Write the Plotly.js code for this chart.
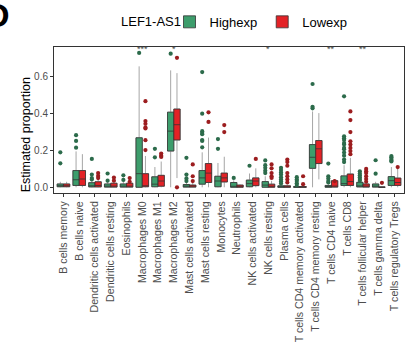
<!DOCTYPE html>
<html>
<head>
<meta charset="utf-8">
<script src="https://cdn.plot.ly/plotly-3.0.1.min.js"></script>
<style>html,body{margin:0;padding:0;background:#fff;}#chart{width:411px;height:356px;}</style>
</head>
<body>
<div id="chart"></div>
<script>
const categories = ["B cells memory","B cells naive","Dendritic cells activated","Dendritic cells resting","Eosinophils","Macrophages M0","Macrophages M1","Macrophages M2","Mast cells activated","Mast cells resting","Monocytes","Neutrophils","NK cells activated","NK cells resting","Plasma cells","T cells CD4 memory activated","T cells CD4 memory resting","T cells CD4 naive","T cells CD8","T cells follicular helper","T cells gamma delta","T cells regulatory Tregs"];

// Highexp group
const highQ1  = [0.003,0.010,0.002,0.001,0.001,0.000,0.003,0.197,0.001,0.017,0.003,0.000,0.003,0.000,0.000,0.000,0.103,0.000,0.010,0.002,0.001,0.010];
const highMed = [0.008,0.041,0.008,0.005,0.005,0.074,0.017,0.305,0.005,0.051,0.034,0.005,0.020,0.012,0.002,0.001,0.163,0.003,0.020,0.007,0.005,0.036];
const highQ3  = [0.018,0.091,0.025,0.018,0.018,0.269,0.057,0.408,0.015,0.091,0.060,0.026,0.039,0.031,0.008,0.004,0.232,0.010,0.062,0.027,0.018,0.058];
const highLo  = [0.000,0.000,0.000,0.000,0.000,0.000,0.000,0.000,0.000,0.000,0.000,0.000,0.000,0.000,0.000,0.000,0.000,0.000,0.000,0.000,0.000,0.000];
const highHi  = [0.030,0.195,0.040,0.030,0.030,0.657,0.110,0.635,0.030,0.190,0.132,0.038,0.075,0.060,0.015,0.008,0.412,0.020,0.120,0.030,0.030,0.110];
const highOut = [
  [0.19,0.13],
  [0.283,0.252,0.215],
  [0.154,0.069,0.05,0.043],
  [0.075,0.036],
  [0.065,0.04],
  [0.73],
  [0.209,0.163],
  [0.726],
  [0.16,0.069,0.048,0.034],
  [0.626,0.4,0.305,0.295,0.288,0.257,0.252,0.217],
  [0.262,0.209],
  [0.051],
  [0.117],
  [0.146,0.12,0.106,0.09,0.077],
  [0.106,0.094,0.081,0.069,0.055,0.043,0.031,0.02],
  [0.055,0.043,0.034,0.022,0.012],
  [0.561,0.437,0.429],
  [0.129,0.06,0.048,0.034,0.026],
  [0.494,0.277,0.266,0.257,0.24,0.232,0.214,0.206,0.189,0.172,0.151,0.137],
  [0.087,0.075,0.065,0.055,0.045,0.036],
  [0.147,0.074],
  [0.17,0.163,0.154,0.146,0.14]
];

// Lowexp group
const lowQ1  = [0.003,0.010,0.002,0.001,0.001,0.003,0.006,0.257,0.001,0.026,0.029,0.000,0.009,0.000,0.000,0.000,0.129,0.001,0.010,0.001,0.000,0.010];
const lowMed = [0.008,0.045,0.010,0.006,0.006,0.006,0.034,0.340,0.004,0.077,0.051,0.005,0.034,0.005,0.002,0.001,0.209,0.005,0.031,0.005,0.000,0.026];
const lowQ3  = [0.018,0.091,0.030,0.022,0.022,0.074,0.065,0.425,0.012,0.129,0.077,0.012,0.051,0.017,0.008,0.004,0.254,0.036,0.072,0.018,0.002,0.050];
const lowLo  = [0.000,0.000,0.000,0.000,0.000,0.000,0.000,0.050,0.000,0.000,0.000,0.000,0.000,0.000,0.000,0.000,0.043,0.000,0.000,0.000,0.000,0.000];
const lowHi  = [0.030,0.180,0.045,0.035,0.035,0.170,0.140,0.620,0.025,0.270,0.166,0.015,0.103,0.035,0.015,0.008,0.403,0.045,0.160,0.025,0.004,0.100];
const lowOut = [
  [],
  [],
  [0.077,0.062,0.05],
  [0.053,0.036],
  [0.05,0.03],
  [0.468,0.36,0.345,0.325,0.32,0.256,0.202],
  [0.183,0.172,0.165],
  [0.703,0.0],
  [0.124,0.06,0.034],
  [0.407,0.355],
  [0.338,0.3],
  [],
  [0.154],
  [0.124,0.103,0.077,0.06,0.051],
  [0.151,0.137,0.117,0.077,0.06,0.043,0.026],
  [0.06,0.017],
  [],
  [0.034],
  [0.412,0.365,0.3,0.25,0.232,0.214,0.197,0.18],
  [0.1,0.087,0.077,0.06,0.045,0.03],
  [0.024],
  [0.11]
];

const sigLabels = ["","","","","","***","","*","","","","","","*","","","","**","","**","",""];

const groups = [
  {name:"Highexp", q1:highQ1, med:highMed, q3:highQ3, lo:highLo, hi:highHi, out:highOut, off:-0.2, fill:"#3d9d6c", dot:"#2c6b4b"},
  {name:"Lowexp",  q1:lowQ1,  med:lowMed,  q3:lowQ3,  lo:lowLo,  hi:lowHi,  out:lowOut,  off: 0.2, fill:"#e32226", dot:"#9c1d1f"}
];

const FONT = "Liberation Sans, Arial, sans-serif";
const idx = categories.map((c,i)=>i);
const traces = [];
groups.forEach(g=>{
  const xs = idx.map(i=>i+g.off);
  traces.push({type:"box", x:xs, q1:g.q1, median:g.med, q3:g.q3, lowerfence:g.lo, upperfence:g.hi,
    width:0.4, whiskerwidth:0, line:{color:"#a6a6a6", width:1}, fillcolor:"rgba(0,0,0,0)",
    boxpoints:false, showlegend:false, hoverinfo:"skip"});
});
groups.forEach(g=>{
  const xs = idx.map(i=>i+g.off);
  traces.push({type:"box", name:g.name, x:xs, q1:g.q1, median:g.med, q3:g.q3, lowerfence:g.q1, upperfence:g.q3,
    width:0.4, whiskerwidth:0, line:{color:"#333333", width:0.8}, fillcolor:g.fill,
    boxpoints:false, showlegend:true});
});
groups.forEach(g=>{
  const ox = [], oy = [];
  g.out.forEach((arr,i)=>arr.forEach(v=>{ox.push(i+g.off); oy.push(v);}));
  traces.push({type:"scatter", mode:"markers", x:ox, y:oy, showlegend:false, hoverinfo:"y",
    marker:{color:g.dot, size:4.2, line:{width:0}}});
});

const annotations = [];
sigLabels.forEach((s,i)=>{
  if(s) annotations.push({x:i, y:0.752, xref:"x", yref:"y", text:s, showarrow:false,
    font:{family:FONT, size:9, color:"#444"}, yanchor:"middle"});
});
annotations.push({x:-0.119, y:1.216, xref:"paper", yref:"paper", text:"<b>D</b>", showarrow:false,
  xanchor:"right", yanchor:"middle", font:{family:FONT, size:34, color:"#000"}});
annotations.push({x:-0.08, y:0.395, xref:"paper", yref:"paper", text:"Estimated proportion", showarrow:false,
  textangle:-90, xanchor:"center", yanchor:"middle", font:{family:FONT, size:12.5, color:"#000"}});
annotations.push({x:0.186, y:1.172, xref:"paper", yref:"paper", text:"LEF1-AS1", showarrow:false,
  xanchor:"left", yanchor:"middle", font:{family:FONT, size:13, color:"#000"}});

const layout = {
  width:411, height:356,
  margin:{l:54, r:7, t:38, b:163},
  paper_bgcolor:"#fff", plot_bgcolor:"#fff",
  font:{family:FONT, color:"#4d4d4d"},
  showlegend:true,
  legend:{orientation:"h", x:0.33, xanchor:"left", y:1.172, yanchor:"middle",
    font:{size:13, color:"#000"}, itemwidth:30, tracegroupgap:0},
  xaxis:{range:[-0.6,21.6], tickmode:"array", tickvals:idx, ticktext:categories, tickangle:-90,
    showgrid:false, zeroline:false, showline:true, linecolor:"#333", linewidth:1, mirror:true,
    ticks:"outside", ticklen:3, tickcolor:"#333", tickfont:{size:10.6, color:"#4d4d4d"}},
  yaxis:{range:[-0.031,0.762], tickvals:[0,0.2,0.4,0.6], ticktext:["0.0","0.2","0.4","0.6"],
    showgrid:false, zeroline:false, showline:true, linecolor:"#333", linewidth:1, mirror:true,
    ticks:"outside", ticklen:3, tickcolor:"#333", tickfont:{size:10, color:"#4d4d4d"}},
  annotations:annotations,
  boxmode:"overlay"
};

Plotly.newPlot("chart", traces, layout, {displayModeBar:false, staticPlot:true});
</script>
</body>
</html>
